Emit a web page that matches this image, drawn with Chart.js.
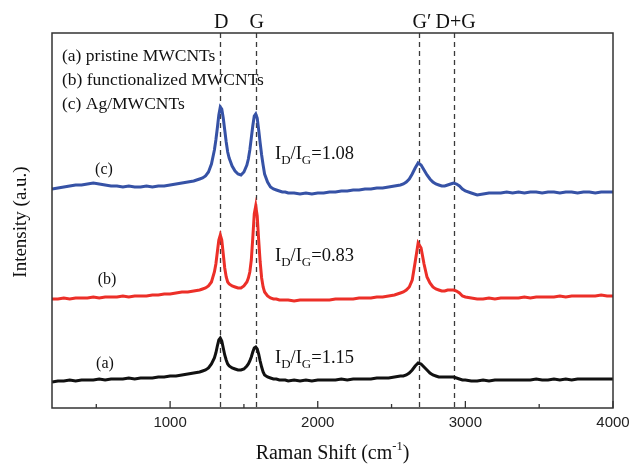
<!DOCTYPE html>
<html><head><meta charset="utf-8">
<script src="https://cdn.jsdelivr.net/npm/chart.js@4.4.1/dist/chart.umd.min.js"></script>
<style>html,body{margin:0;padding:0;background:#fff}canvas{display:block}</style>
</head><body>
<canvas id="c" width="633" height="465"></canvas>
<script>
// Raman shift (cm^-1) sample positions
const ramanShift = [200,240,280,320,360,400,440,480,520,560,600,640,680,720,760,800,840,880,920,960,1000,1040,1080,1120,1160,1200,
1220,1240,1260,1280,1300,
1310,1320,1330,1340,1350,1360,1370,1380,1390,1400,
1420,1440,1460,1480,1500,1520,
1530,1540,1550,1560,1570,1580,1590,1600,1610,1620,1630,1640,
1660,1680,1700,1720,1740,1760,1780,1800,
1840,1880,1920,1960,2000,2040,2080,2120,2160,2200,2240,2280,2320,2360,2400,2440,2480,2520,2560,
2580,2600,2620,2640,2660,2680,2700,2720,2740,2760,2780,2800,
2820,2840,2860,2880,2900,2920,2940,2960,2980,3000,
3040,3080,3120,3160,3200,3240,3280,3320,3360,3400,3440,3480,3520,3560,3600,3640,3680,3720,3760,3800,3840,3880,3920,3960,4000];

// (c) Ag/MWCNTs – blue (offset intensity, a.u.)
const agMwcnt = [219,220,221,222,223,223,224,225,224,223,222,222,221,222,221,221,222,221,222,222,223,224,225,226,227,229,
230,232,236,244,258,
268,280,293,301,299,290,278,266,256,250,
242,237,234,233,236,243,
249,258,270,282,292,294,290,278,265,253,243,234,
226,221,219,218,217,216,216,215,
215,214,215,214,215,215,216,216,217,217,218,218,219,219,220,220,221,222,223,
224,226,229,234,240,245,243,238,233,229,226,224,
223,222,222,223,224,225,224,222,219,217,
215,213,214,215,215,215,216,215,216,215,216,216,215,216,216,215,216,216,215,216,216,215,216,216,216];

// (b) functionalized MWCNTs – red
const functionalized = [109,109,110,109,110,110,110,111,110,111,111,111,112,111,112,112,112,113,113,114,114,115,116,116,117,118,
119,120,122,126,136,
144,156,168,173,168,154,140,131,126,124,
122,121,120,120,122,126,
130,136,148,170,194,202,192,168,146,130,121,116,
112,110,109,109,108,108,108,108,
107,108,108,108,108,108,108,109,109,109,109,110,110,110,111,111,112,113,115,
116,118,121,128,146,165,160,144,131,125,121,119,
118,117,117,118,118,118,117,115,112,111,
110,109,109,110,109,110,110,110,110,111,110,111,111,111,111,112,111,112,112,112,112,112,113,112,112];

// (a) pristine MWCNTs – black
const pristine = [26,27,27,28,27,28,28,28,29,28,29,29,29,30,29,30,30,30,31,31,32,32,33,34,35,36,
37,38,40,44,50,
55,62,68,70,67,60,53,48,44,42,
40,39,38,38,39,42,
44,47,51,56,60,61,59,54,47,41,36,33,
31,30,29,29,28,28,28,27,
28,27,28,27,28,28,28,28,29,28,29,29,29,29,30,30,30,31,32,
32,33,35,38,42,45,44,41,38,35,33,32,
31,31,31,31,31,31,30,29,28,28,
27,27,28,27,28,28,28,28,28,28,28,29,28,28,29,28,29,28,29,29,29,29,29,29,29];

const xTickValues = [1000, 2000, 3000, 4000];
const minorTickValues = [500, 1500, 2500, 3500];
const peakPositions = [1340, 1580, 2685, 2920];
const peakLabels = ['D', 'G', 'G\u2032', 'D+G'];
const seriesNames = ['(a) pristine MWCNTs', '(b) functionalized MWCNTs', '(c) Ag/MWCNTs'];
const curveTags = ['(a)', '(b)', '(c)'];
const ratioValues = ['1.15', '0.83', '1.08'];

const SERIF = '"Liberation Serif", "Times New Roman", serif';

function pts(ys) { return ramanShift.map((x, i) => ({ x: x, y: ys[i] })); }

const framePlugin = {
  id: 'frame',
  beforeDatasetsDraw(chart) {
    const { ctx, chartArea: a, scales: { x } } = chart;
    ctx.save();
    ctx.strokeStyle = '#3a3a3a';
    ctx.lineWidth = 1.3;
    ctx.setLineDash([5, 4]);
    peakPositions.forEach(p => {
      const px = Math.round(x.getPixelForValue(p)) + 0.5;
      ctx.beginPath(); ctx.moveTo(px, a.top); ctx.lineTo(px, a.bottom); ctx.stroke();
    });
    ctx.restore();
  },
  afterDraw(chart) {
    const { ctx, chartArea: a, scales: { x } } = chart;
    ctx.save();
    // frame
    ctx.strokeStyle = '#333';
    ctx.lineWidth = 1.5;
    ctx.setLineDash([]);
    ctx.strokeRect(a.left, a.top, a.right - a.left, a.bottom - a.top);
    // inward ticks
    ctx.lineWidth = 1.3;
    xTickValues.forEach(v => {
      const px = x.getPixelForValue(v);
      ctx.beginPath(); ctx.moveTo(px, a.bottom); ctx.lineTo(px, a.bottom - 7); ctx.stroke();
    });
    minorTickValues.forEach(v => {
      const px = x.getPixelForValue(v);
      ctx.beginPath(); ctx.moveTo(px, a.bottom); ctx.lineTo(px, a.bottom - 4); ctx.stroke();
    });
    ctx.fillStyle = '#111';
    // peak labels above plot
    ctx.font = '20px ' + SERIF;
    ctx.textAlign = 'center';
    ctx.textBaseline = 'alphabetic';
    const labelShift = [1, 1, 3, 2];
    peakPositions.forEach((p, i) => {
      ctx.fillText(peakLabels[i], x.getPixelForValue(p) + labelShift[i], 28);
    });
    // legend text
    ctx.textAlign = 'left';
    ctx.font = '17.5px ' + SERIF;
    [61, 85, 109].forEach((y, i) => ctx.fillText(seriesNames[i], 62, y));
    // curve tags
    ctx.font = '16px ' + SERIF;
    ctx.textAlign = 'center';
    [[105, 368], [107, 284], [104, 174]].forEach((pos, i) => ctx.fillText(curveTags[i], pos[0], pos[1]));
    // ratio labels
    ctx.textAlign = 'left';
    [[275, 363], [275, 261], [275, 159]].forEach((pos, i) => {
      let cx = pos[0]; const by = pos[1];
      const seg = (t, sub) => {
        ctx.font = (sub ? '13px ' : '18.5px ') + SERIF;
        ctx.fillText(t, cx, sub ? by + 5 : by);
        cx += ctx.measureText(t).width;
      };
      seg('I', false); seg('D', true); seg('/', false); seg('I', false); seg('G', true);
      seg('=' + ratioValues[i], false);
    });
    // x title with superscript
    const main1 = 'Raman Shift (cm', sup = '-1', main2 = ')';
    const MF = '20px ', SF = '12.5px ';
    ctx.font = MF + SERIF;
    const w1 = ctx.measureText(main1).width, w3 = ctx.measureText(main2).width;
    ctx.font = SF + SERIF;
    const w2 = ctx.measureText(sup).width;
    let sx = (a.left + a.right) / 2 - (w1 + w2 + w3) / 2;
    const ty = 459;
    ctx.textAlign = 'left';
    ctx.font = MF + SERIF; ctx.fillText(main1, sx, ty); sx += w1;
    ctx.font = SF + SERIF; ctx.fillText(sup, sx, ty - 9); sx += w2;
    ctx.font = MF + SERIF; ctx.fillText(main2, sx, ty);
    // y title
    ctx.translate(21, 222);
    ctx.rotate(-Math.PI / 2);
    ctx.textAlign = 'center';
    ctx.textBaseline = 'middle';
    ctx.font = '19px ' + SERIF;
    ctx.fillText('Intensity (a.u.)', 0, 0);
    ctx.restore();
  }
};

new Chart(document.getElementById('c').getContext('2d'), {
  type: 'line',
  data: {
    datasets: [
      { label: seriesNames[2], data: pts(agMwcnt), borderColor: '#3652a6', borderWidth: 3, pointRadius: 0, tension: 0 },
      { label: seriesNames[1], data: pts(functionalized), borderColor: '#ec2f28', borderWidth: 3, pointRadius: 0, tension: 0 },
      { label: seriesNames[0], data: pts(pristine), borderColor: '#111111', borderWidth: 3, pointRadius: 0, tension: 0 }
    ]
  },
  options: {
    responsive: false,
    animation: false,
    devicePixelRatio: 1,
    layout: { padding: { left: 52, right: 20, top: 33, bottom: 0 } },
    plugins: { legend: { display: false }, tooltip: { enabled: false } },
    scales: {
      x: {
        type: 'linear', min: 200, max: 4000,
        afterBuildTicks: s => { s.ticks = xTickValues.map(v => ({ value: v })); },
        afterFit: s => { s.height = 57; s.paddingLeft = 0; s.paddingRight = 0; },
        grid: { display: false, drawTicks: false },
        border: { display: false },
        ticks: { padding: 6, color: '#222', font: { family: '"Liberation Sans", Arial, sans-serif', size: 15 }, maxRotation: 0, callback: v => String(v) }
      },
      y: { display: false, min: 0, max: 375 }
    }
  },
  plugins: [framePlugin]
});
</script>
</body></html>
